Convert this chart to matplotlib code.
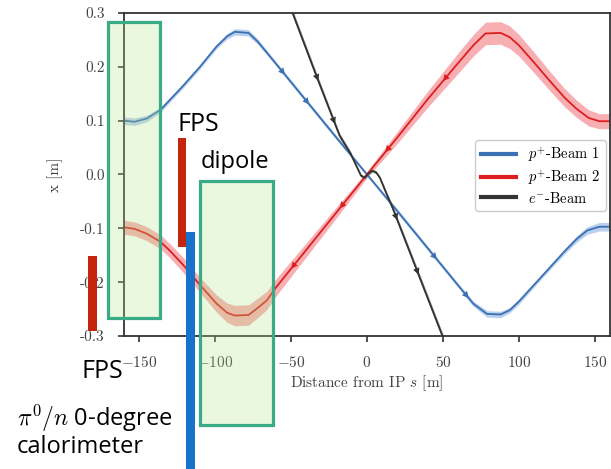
import numpy as np
import matplotlib
matplotlib.use("Agg")
import matplotlib.pyplot as plt
from matplotlib.patches import Rectangle

plt.rcParams['font.family'] = 'serif'
plt.rcParams['font.serif'] = ['cmr10']
plt.rcParams['mathtext.fontset'] = 'cm'
plt.rcParams['axes.formatter.use_mathtext'] = True

# beam 1 (p+)
s_b1 = [-160, -153, -145, -136, -130, -121, -110, -99, -92, -87, -78, -72, -60, -40, -20,
        0, 20, 40, 60, 70, 79, 88, 94, 100, 110, 120, 130, 138, 145, 153, 160]
x_b1 = [0.100, 0.098, 0.104, 0.120, 0.138, 0.165, 0.200, 0.238, 0.257, 0.265, 0.263, 0.247,
        0.206, 0.137, 0.068, 0.000, -0.068, -0.137, -0.206, -0.240, -0.259, -0.260, -0.252,
        -0.236, -0.205, -0.174, -0.143, -0.120, -0.104, -0.097, -0.097]
w_b1 = [0.007, 0.007, 0.006, 0.005, 0.004, 0.004, 0.004, 0.004, 0.005, 0.006, 0.006, 0.005,
        0.004, 0.004, 0.004, 0.003, 0.004, 0.004, 0.004, 0.005, 0.006, 0.006, 0.005,
        0.005, 0.004, 0.004, 0.005, 0.006, 0.007, 0.008, 0.008]

# beam 2 (p+)
s_b2 = [-160, -153, -145, -136, -130, -121, -110, -99, -92, -87, -78, -72, -66, -60, -40, -20,
        0, 20, 40, 60, 70, 78, 88, 94, 100, 110, 120, 130, 138, 146, 153, 160]
x_b2 = [-0.098, -0.101, -0.110, -0.125, -0.141, -0.168, -0.205, -0.240, -0.257, -0.262, -0.261,
        -0.248, -0.234, -0.210, -0.140, -0.070, 0.000, 0.069, 0.140, 0.207, 0.240, 0.262, 0.263,
        0.255, 0.240, 0.208, 0.175, 0.143, 0.122, 0.105, 0.099, 0.099]
w_b2 = [0.013, 0.013, 0.013, 0.013, 0.013, 0.014, 0.014, 0.016, 0.018, 0.019, 0.019, 0.018,
        0.017, 0.016, 0.013, 0.010, 0.006, 0.011, 0.015, 0.019, 0.020, 0.021, 0.021,
        0.021, 0.020, 0.019, 0.018, 0.017, 0.016, 0.015, 0.014, 0.014]

# electron beam
s_e = [-53, -33, -18, -11, -7, -4, -1.5, 1, 3.5, 6, 8.5, 12, 17, 33, 50, 55]
x_e = [0.330, 0.181, 0.072, 0.040, 0.016, -0.002, -0.006, 0.002, 0.007, 0.004, -0.006,
       -0.030, -0.063, -0.179, -0.302, -0.340]
w_e = [0.006, 0.006, 0.005, 0.004, 0.003, 0.003, 0.003, 0.003, 0.003, 0.003, 0.003,
       0.004, 0.005, 0.006, 0.006, 0.006]

arrows_b1 = [-55, -39, 45, 66]
arrows_b2 = [-49, -17, 13, 51]
arrows_e = [-33, -22, 19, 33]

labels = [r'$p^{+}$-Beam 1', r'$p^{+}$-Beam 2', r'$e^{-}$-Beam']
c_blue, c_red, c_black = '#3a70b4', '#dd1f1f', '#333333'

W, H = 611, 469
fig = plt.figure(figsize=(W / 100, H / 100), dpi=100)
ax = fig.add_axes([124 / W, 1 - 336 / H, 486 / W, 323 / H])


def arrows(s, x, where, direction, color):
    for p in where:
        x0 = np.interp(p, s, x)
        x1 = np.interp(p + direction, s, x)
        ax.annotate('', xy=(p + direction, x1), xytext=(p, x0),
                    arrowprops=dict(arrowstyle='-|>', color=color, lw=0,
                                    mutation_scale=12, shrinkA=0, shrinkB=0))


def beam(s, x, w, color, band, alpha, lw, label):
    x = np.array(x)
    w = np.array(w)
    ax.fill_between(s, x - w, x + w, color=band, alpha=alpha, lw=0)
    ax.plot(s, x, color=color, lw=lw, label=label)


beam(s_b1, x_b1, w_b1, c_blue, '#9dbde6', 0.7, 1.3, labels[0])
beam(s_b2, x_b2, w_b2, c_red, '#f5949a', 0.75, 1.3, labels[1])
beam(s_e, x_e, w_e, c_black, '#888888', 0.75, 1.3, labels[2])
arrows(s_b1, x_b1, arrows_b1, 1, c_blue)
arrows(s_b2, x_b2, arrows_b2, -1, c_red)
arrows(s_e, x_e, arrows_e, 1, c_black)

ax.set_xlim(-160, 160)
ax.set_ylim(-0.3, 0.3)
ax.set_xticks([-150, -100, -50, 0, 50, 100, 150])
ax.set_yticks([-0.3, -0.2, -0.1, 0.0, 0.1, 0.2, 0.3])
ax.yaxis.set_major_formatter(matplotlib.ticker.FormatStrFormatter('%.1f'))
for sp in ax.spines.values():
    sp.set_color('#333333')
    sp.set_linewidth(1.3)
ax.tick_params(direction='out', length=4, width=1.2, color='#333333',
               labelsize=11, labelcolor='#444444', pad=10)
ax.set_xlabel(r'Distance from IP $s$ [m]', fontsize=11, color='#444444', labelpad=2)
ax.set_ylabel('x [m]', fontsize=11, color='#444444', labelpad=12)

leg = ax.legend(loc='upper right', bbox_to_anchor=(0.992, 0.608), borderaxespad=0,
                fontsize=10.5, handlelength=2.4, labelspacing=0.25, fancybox=True,
                framealpha=1, edgecolor='#cccccc')
for line in leg.get_lines():
    line.set_linewidth(3)


# overlays drawn on top of the plot (pixel boxes of the picture)
def box(x0, y0, x1, y1, **kw):
    fig.add_artist(Rectangle((x0 / W, 1 - y1 / H), (x1 - x0) / W, (y1 - y0) / H,
                             transform=fig.transFigure, **kw))


green = dict(facecolor=(0.71, 0.9, 0.54, 0.27), edgecolor='#3aab87', lw=2.3)
box(108, 22, 160, 318, **green)
box(200, 181, 273, 425, **green)
box(178, 138, 186, 247, facecolor='#c4250f', lw=0)
box(88, 256, 97, 331, facecolor='#c4250f', lw=0)
box(186, 232, 195, 469, facecolor='#1673c9', lw=0)

txt = dict(family=['Open Sans', 'DejaVu Sans'], color='black', va='baseline', ha='left')
fig.text(177 / W, 1 - 131 / H, 'FPS', fontsize=18, **txt)
fig.text(201 / W, 1 - 168 / H, 'dipole', fontsize=17, **txt)
fig.text(82 / W, 1 - 378 / H, 'FPS', fontsize=18, **txt)
fig.text(17 / W, 1 - 426 / H, r'$\pi^0/n$ 0-degree', fontsize=17, **txt)
fig.text(17 / W, 1 - 453 / H, 'calorimeter', fontsize=17, **txt)

fig.savefig('out.png', dpi=100)
